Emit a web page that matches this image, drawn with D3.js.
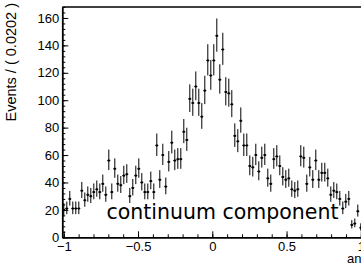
<!DOCTYPE html>
<html>
<head>
<meta charset="utf-8">
<script src="https://cdn.jsdelivr.net/npm/d3@7"></script>
<style>
  body { margin: 0; background: #fff; }
</style>
</head>
<body>
<script>
  var width = 361, height = 265;

  // histogram: 100 bins of 0.0202 from -1.01 to 1.01
  var binLow = -1.01, binWidth = 0.0202;
  var counts = [
    20, 21, 28, 21, 21, 21, 34, 27, 31, 30, 33, 35, 33, 39, 31, 56, 33, 50, 39, 38,
    45, 46, 30, 36, 45, 50, 40, 33, 33, 41, 33, 67, 42, 60, 37, 55, 69, 56, 57, 57,
    77, 71, 101, 98, 110, 98, 88, 107, 129, 118, 129, 147, 115, 137, 106, 105, 97, 74, 70, 85,
    67, 67, 52, 51, 60, 48, 58, 60, 43, 39, 57, 59, 52, 44, 42, 43, 35, 34, 35, 59,
    58, 39, 51, 42, 56, 42, 47, 47, 43, 31, 34, 33, 28, 21, 26, 28, 9, 10, 19, 7
  ];
  var xTicks = [-1, -0.5, 0, 0.5, 1];
  var xTickLabels = ["\u22121", "\u22120.5", "0", "0.5", "1"];
  var yTicks = [0, 20, 40, 60, 80, 100, 120, 140, 160];
  var yTitle = "Events / ( 0.0202 )";
  var xTitle = "angle";
  var label = "continuum component";

  var x = d3.scaleLinear().domain([-1.01, 1.01]).range([62.3, 362.3]);
  var y = d3.scaleLinear().domain([0, 168]).range([237.3, 7]);

  var svg = d3.select("body").append("svg")
    .attr("width", width)
    .attr("height", height);

  svg.append("rect").attr("width", width).attr("height", height).attr("fill", "#fff");

  // minor ticks
  var xMinor = d3.range(-10, 11).map(function(d) { return d / 10; });
  var yMinor = d3.range(0, 169, 4);

  svg.append("g")
    .attr("transform", "translate(0," + y(0) + ")")
    .call(d3.axisBottom(x).tickValues(xMinor).tickSizeInner(-3).tickSizeOuter(0).tickFormat(""))
    .call(function(g) { g.select(".domain").remove(); });

  svg.append("g")
    .attr("transform", "translate(" + x(-1.01) + ",0)")
    .call(d3.axisLeft(y).tickValues(yMinor).tickSizeInner(-3).tickSizeOuter(0).tickFormat(""))
    .call(function(g) { g.select(".domain").remove(); });

  // major axes
  svg.append("g")
    .attr("transform", "translate(0," + y(0) + ")")
    .call(d3.axisBottom(x).tickValues(xTicks).tickSizeInner(-6).tickSizeOuter(0).tickPadding(4.5)
      .tickFormat(function(d, i) { return xTickLabels[i]; }));

  svg.append("g")
    .attr("transform", "translate(" + x(-1.01) + ",0)")
    .call(d3.axisLeft(y).tickValues(yTicks).tickSizeInner(-6).tickSizeOuter(0).tickPadding(3));

  svg.selectAll(".tick line").attr("stroke", "#000").attr("stroke-width", 1);
  svg.selectAll(".domain").attr("stroke", "#000").attr("stroke-width", 1.8);
  svg.selectAll(".tick text").attr("font-size", 13).attr("fill", "#000")
    .attr("font-family", "Liberation Sans, Arial, sans-serif");

  // frame top / right
  svg.append("path")
    .attr("d", "M" + x(-1.01) + "," + y(168) + "H" + x(1.01) + "V" + y(0))
    .attr("fill", "none").attr("stroke", "#000").attr("stroke-width", 1.6);

  // data points with poisson-ish error bars
  var pts = svg.append("g");
  counts.forEach(function(n, i) {
    var xc = binLow + (i + 0.5) * binWidth;
    var lo = n - (Math.sqrt(n + 0.25) - 0.5);
    var hi = n + (Math.sqrt(n + 0.25) + 0.5);
    pts.append("line")
      .attr("x1", x(xc)).attr("x2", x(xc))
      .attr("y1", y(lo)).attr("y2", y(hi))
      .attr("stroke", "#000").attr("stroke-width", 1);
    pts.append("line")
      .attr("x1", x(xc - binWidth / 2)).attr("x2", x(xc + binWidth / 2))
      .attr("y1", y(n)).attr("y2", y(n))
      .attr("stroke", "#000").attr("stroke-width", 1);
    pts.append("rect")
      .attr("x", x(xc) - 1).attr("y", y(n) - 1)
      .attr("width", 2).attr("height", 2)
      .attr("fill", "#000");
  });

  // titles
  svg.append("text")
    .attr("transform", "translate(15.5,3) rotate(-90)")
    .attr("text-anchor", "end")
    .attr("font-family", "Liberation Sans, Arial, sans-serif")
    .attr("font-size", 14.5)
    .text(yTitle);

  svg.append("text")
    .attr("x", 347).attr("y", 263)
    .attr("font-family", "Liberation Sans, Arial, sans-serif")
    .attr("font-size", 13)
    .text(xTitle);

  svg.append("text")
    .attr("x", 106.5).attr("y", 218.5)
    .attr("font-family", "DejaVu Sans, sans-serif")
    .attr("font-size", 20.5)
    .text(label);
</script>
</body>
</html>
